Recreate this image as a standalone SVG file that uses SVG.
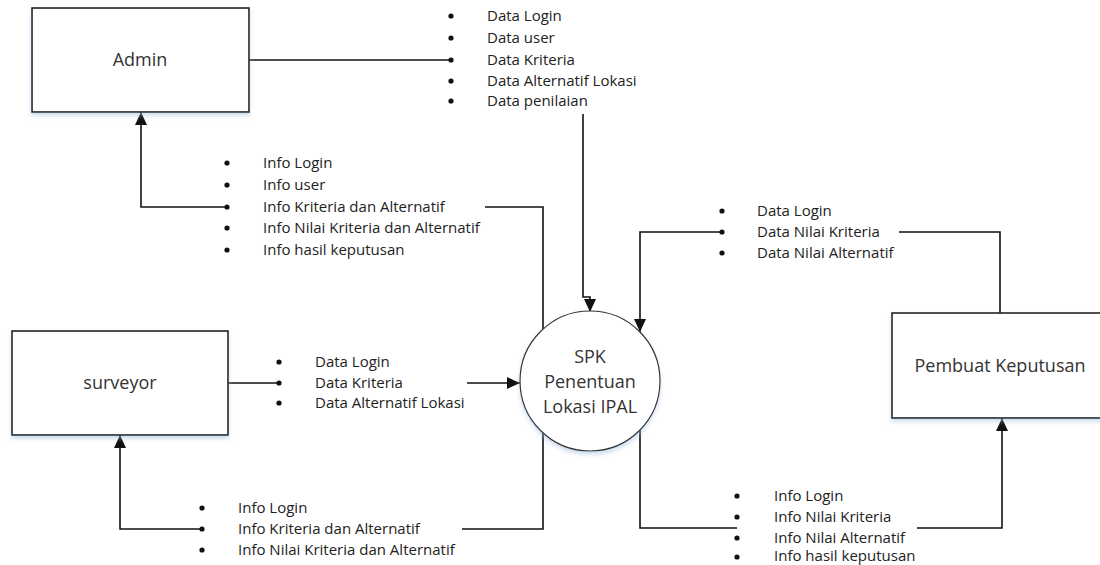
<svg xmlns="http://www.w3.org/2000/svg" width="1100" height="565" viewBox="0 0 1100 565">
<defs>
<style>
.box{fill:#fff;stroke:#222;stroke-width:1.6;filter:url(#sh)}
.circ{fill:#fff;stroke:#333;stroke-width:1.2;filter:url(#sh)}
.ntext{font-family:"Open Sans","Noto Sans",sans-serif;font-size:18px;fill:#333;text-anchor:middle}
.lbl{font-family:"Open Sans","Noto Sans",sans-serif;font-size:15px;fill:#222}
.bul{fill:#111}
.con{fill:none;stroke:#111;stroke-width:1.6}
</style>
<filter id="sh" x="-10%" y="-10%" width="120%" height="130%">
<feDropShadow dx="0" dy="3" stdDeviation="2" flood-color="#9fbbe0" flood-opacity="0.5"/>
</filter>
<marker id="arr" viewBox="0 0 13 12" refX="13" refY="6" markerWidth="13" markerHeight="12" markerUnits="userSpaceOnUse" orient="auto">
<path d="M0,0 L13,6 L0,12 z" fill="#111"/>
</marker>
</defs>
<rect width="1100" height="565" fill="#fff"/>

<g id="connectors">
<path class="con" d="M249,60 H449"/>
<path class="con" d="M583,114 V297 H590 V312" marker-end="url(#arr)"/>
<path class="con" d="M543,329 V207 H485"/>
<path class="con" d="M226,207 H141 V112" marker-end="url(#arr)"/>
<path class="con" d="M1000,313 V232 H899"/>
<path class="con" d="M722,232 H640 V332" marker-end="url(#arr)"/>
<path class="con" d="M228,383 H279"/>
<path class="con" d="M467,383 H520" marker-end="url(#arr)"/>
<path class="con" d="M543,433 V529 H462"/>
<path class="con" d="M202,529 H120 V435" marker-end="url(#arr)"/>
<path class="con" d="M640,430 V528 H737"/>
<path class="con" d="M917,528 H1002 V418" marker-end="url(#arr)"/>
</g>

<g id="admin">
<rect class="box" x="32" y="8" width="217" height="104"/>
<text class="ntext" x="140" y="66">Admin</text>
</g>

<g id="surveyor">
<rect class="box" x="12" y="331" width="216" height="104"/>
<text class="ntext" x="120" y="389">surveyor</text>
</g>

<g id="pembuat">
<rect class="box" x="892" y="313" width="230" height="105"/>
<text class="ntext" x="1000" y="372">Pembuat Keputusan</text>
</g>

<g id="spk">
<circle class="circ" cx="590" cy="381" r="70"/>
<text class="ntext" x="590" y="363">SPK</text>
<text class="ntext" x="590" y="388">Penentuan</text>
<text class="ntext" x="590" y="413">Lokasi IPAL</text>
</g>

<g id="label-admin-data">
<circle class="bul" cx="451" cy="16" r="2.6"/>
<circle class="bul" cx="451" cy="38" r="2.6"/>
<circle class="bul" cx="451" cy="60" r="2.6"/>
<circle class="bul" cx="451" cy="81" r="2.6"/>
<circle class="bul" cx="451" cy="101" r="2.6"/>
<text class="lbl" x="487" y="21">Data Login</text>
<text class="lbl" x="487" y="43">Data user</text>
<text class="lbl" x="487" y="65">Data Kriteria</text>
<text class="lbl" x="487" y="86">Data Alternatif Lokasi</text>
<text class="lbl" x="487" y="106">Data penilaian</text>
</g>

<g id="label-admin-info">
<circle class="bul" cx="227" cy="163" r="2.6"/>
<circle class="bul" cx="227" cy="185" r="2.6"/>
<circle class="bul" cx="227" cy="207" r="2.6"/>
<circle class="bul" cx="227" cy="228" r="2.6"/>
<circle class="bul" cx="227" cy="250" r="2.6"/>
<text class="lbl" x="263" y="168">Info Login</text>
<text class="lbl" x="263" y="190">Info user</text>
<text class="lbl" x="263" y="212">Info Kriteria dan Alternatif</text>
<text class="lbl" x="263" y="233">Info Nilai Kriteria dan Alternatif</text>
<text class="lbl" x="263" y="255">Info hasil keputusan</text>
</g>

<g id="label-pembuat-data">
<circle class="bul" cx="722" cy="211" r="2.6"/>
<circle class="bul" cx="722" cy="232" r="2.6"/>
<circle class="bul" cx="722" cy="253" r="2.6"/>
<text class="lbl" x="757" y="216">Data Login</text>
<text class="lbl" x="757" y="237">Data Nilai Kriteria</text>
<text class="lbl" x="757" y="258">Data Nilai Alternatif</text>
</g>

<g id="label-surveyor-data">
<circle class="bul" cx="279" cy="362" r="2.6"/>
<circle class="bul" cx="279" cy="383" r="2.6"/>
<circle class="bul" cx="279" cy="403" r="2.6"/>
<text class="lbl" x="315" y="367">Data Login</text>
<text class="lbl" x="315" y="388">Data Kriteria</text>
<text class="lbl" x="315" y="408">Data Alternatif Lokasi</text>
</g>

<g id="label-surveyor-info">
<circle class="bul" cx="202" cy="508" r="2.6"/>
<circle class="bul" cx="202" cy="529" r="2.6"/>
<circle class="bul" cx="202" cy="550" r="2.6"/>
<text class="lbl" x="238" y="513">Info Login</text>
<text class="lbl" x="238" y="534">Info Kriteria dan Alternatif</text>
<text class="lbl" x="238" y="555">Info Nilai Kriteria dan Alternatif</text>
</g>

<g id="label-pembuat-info">
<circle class="bul" cx="737" cy="496" r="2.6"/>
<circle class="bul" cx="737" cy="517" r="2.6"/>
<circle class="bul" cx="737" cy="538" r="2.6"/>
<circle class="bul" cx="737" cy="557" r="2.6"/>
<text class="lbl" x="774" y="501">Info Login</text>
<text class="lbl" x="774" y="522">Info Nilai Kriteria</text>
<text class="lbl" x="774" y="543">Info Nilai Alternatif</text>
<text class="lbl" x="774" y="561">Info hasil keputusan</text>
</g>
</svg>
